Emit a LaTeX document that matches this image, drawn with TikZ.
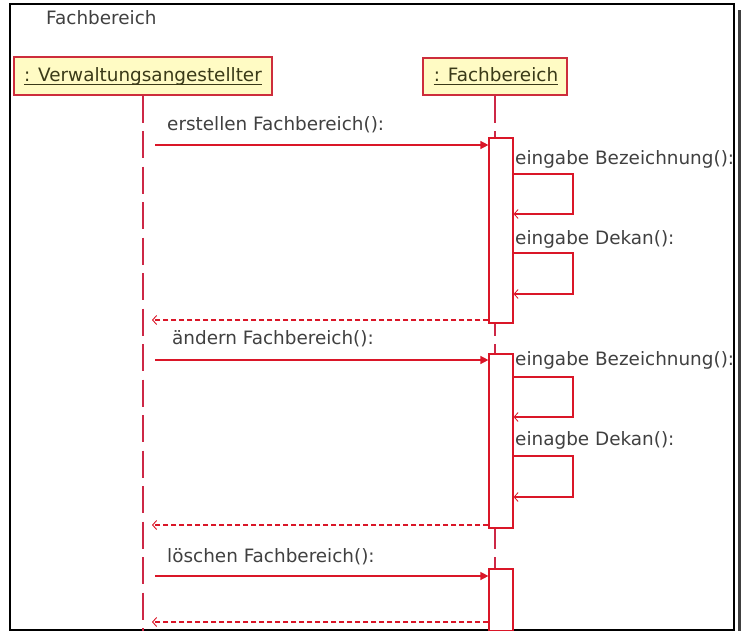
\documentclass[tikz,border=0pt]{standalone}
\usepackage{fontspec}
\setmainfont{DejaVu Sans}
\usetikzlibrary{arrows.meta}

\definecolor{msgred}{RGB}{218,22,40}
\definecolor{lifered}{RGB}{205,40,70}
\definecolor{boxedge}{RGB}{205,45,60}
\definecolor{boxfill}{RGB}{255,251,196}
\definecolor{labelgray}{RGB}{64,64,64}
\definecolor{objtext}{RGB}{58,58,24}

\tikzset{
  lbl/.style={font=\fontsize{18.4}{21}\selectfont, text=labelgray, inner sep=0pt, anchor=base west},
  objbox/.style={draw=boxedge, fill=boxfill, line width=1.2pt, inner sep=0pt},
  objname/.style={font=\fontsize{18.4}{21}\selectfont, text=objtext, inner sep=0pt, anchor=base},
  uline/.style={draw=objtext, line width=1pt},
  lifeline/.style={draw=lifered, line width=1.4pt, dash pattern=on 27pt off 8.5pt},
  actbox/.style={draw=msgred, fill=white, line width=1.2pt, inner sep=0pt, minimum width=24pt},
  call/.style={draw=msgred, line width=1.4pt, -{Triangle[length=8pt,width=8pt]}},
  selfcall/.style={draw=msgred, line width=1.3pt, -{Straight Barb[length=4pt,width=9pt,line width=0.8pt]}},
  reply/.style={draw=msgred, line width=1.1pt, dash pattern=on 5pt off 3pt,
    -{Straight Barb[length=4pt,width=9pt,line width=0.9pt]}}
}

\begin{document}
\begin{tikzpicture}[x=1pt, y=-1pt]
  \useasboundingbox (0,0) rectangle (741,631);

  % frame with its shadow
  \fill[black!75] (737.5,10) rectangle (741,631);
  \draw[black, line width=1.2pt] (10,4) rectangle (734,630);
  \node[lbl] (title) at (46,25) {Fachbereich};

  % objects
  \node[objbox, minimum width=258pt, minimum height=38pt] (va) at (143,76) {};
  \node[objbox, minimum width=144pt, minimum height=37pt] (fb) at (495,76.5) {};
  \node[objname] (vaname) at (143,81.5) {: Verwaltungsangestellter};
  \node[objname] (fbname) at (496,81.5) {: Fachbereich};
  \draw[uline] ([yshift=-2.8pt]vaname.base west) -- ([yshift=-2.8pt]vaname.base east);
  \draw[uline] ([yshift=-2.8pt]fbname.base west) -- ([yshift=-2.8pt]fbname.base east);

  % lifelines
  \coordinate (vaend) at (143,631);
  \coordinate (fbend) at (495,631);
  \draw[lifeline] (va.south) -- (vaend);
  \draw[lifeline] (fb.south) -- (fbend);

  % activations
  \node[actbox, minimum height=185pt] (a1) at (501,230.5) {};
  \node[actbox, minimum height=174pt] (a2) at (501,441) {};
  \node[actbox, minimum height=62pt] (a3) at (501,600) {};

  % erstellen
  \coordinate (m1) at (155,145);
  \node[lbl] (l1) at (167,131) {erstellen Fachbereich():};
  \draw[call] (m1) -- (a1.west |- m1);
  \node[lbl] (l1a) at (515,164.5) {eingabe Bezeichnung():};
  \draw[selfcall] (a1.east |- 0,174) -- (573,174) -- (573,214) -- (a1.east |- 0,214);
  \node[lbl] (l1b) at (515,244) {eingabe Dekan():};
  \draw[selfcall] (a1.east |- 0,253) -- (573,253) -- (573,294) -- (a1.east |- 0,294);
  \coordinate (r1) at (152,320);
  \draw[reply] (a1.west |- r1) -- (r1);

  % ändern
  \coordinate (m2) at (155,360);
  \node[lbl] (l2) at (172,344) {ändern Fachbereich():};
  \draw[call] (m2) -- (a2.west |- m2);
  \node[lbl] (l2a) at (515,365) {eingabe Bezeichnung():};
  \draw[selfcall] (a2.east |- 0,377) -- (573,377) -- (573,417) -- (a2.east |- 0,417);
  \node[lbl] (l2b) at (515,445) {einagbe Dekan():};
  \draw[selfcall] (a2.east |- 0,456) -- (573,456) -- (573,497) -- (a2.east |- 0,497);
  \coordinate (r2) at (152,525);
  \draw[reply] (a2.west |- r2) -- (r2);

  % löschen
  \coordinate (m3) at (155,576);
  \node[lbl] (l3) at (167,562) {löschen Fachbereich():};
  \draw[call] (m3) -- (a3.west |- m3);
  \coordinate (r3) at (152,622);
  \draw[reply] (a3.west |- r3) -- (r3);
\end{tikzpicture}
\end{document}
